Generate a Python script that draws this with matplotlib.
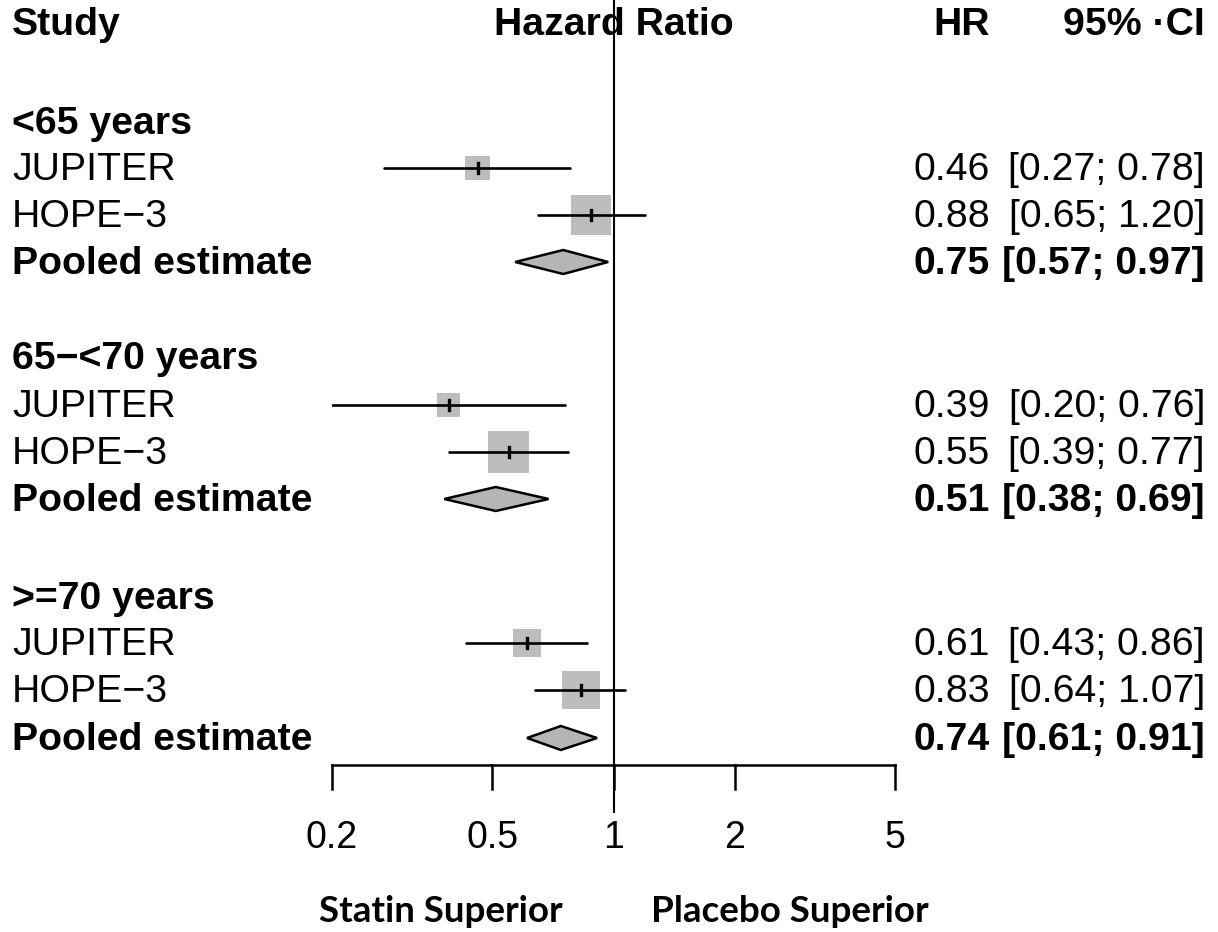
import matplotlib
matplotlib.use('Agg')
import matplotlib.pyplot as plt
import numpy as np

# ── Data ─────────────────────────────────────────────────────────────────────
groups = ['<65 years', '65\u2212<70 years', '>=70 years']
studies = ['JUPITER', 'HOPE\u22123']
hr = [[0.46, 0.88], [0.39, 0.55], [0.61, 0.83]]
ci_lo = [[0.27, 0.65], [0.20, 0.39], [0.43, 0.64]]
ci_hi = [[0.78, 1.20], [0.76, 0.77], [0.86, 1.07]]
weights = [[28, 72], [24, 76], [36, 64]]  # % weight, box area
pooled_hr = [0.75, 0.51, 0.74]
pooled_lo = [0.57, 0.38, 0.61]
pooled_hi = [0.97, 0.69, 0.91]
xticks = [0.2, 0.5, 1, 2, 5]

# ── Layout (image pixels) ────────────────────────────────────────────────────
W, H = 1218, 932
group_y = [122, 357, 597]
row_y = [[168, 215, 262], [405, 452, 499], [643, 690, 738]]
axis_y = 765
FS = 28.3
plt.rcParams['font.family'] = ['Liberation Sans', 'DejaVu Sans']

fig = plt.figure(figsize=(W / 100, H / 100), dpi=100)
fig.patch.set_facecolor('white')
ax = fig.add_axes([332 / W, 0, (895 - 332) / W, 1])
ax.set_xscale('log')
ax.set_xlim(0.2, 5)
ax.set_ylim(H, 0)
ax.axis('off')

def ftext(xpx, ypx, s, **kw):
    # x in figure pixels, y in image pixels (same as data y)
    fig.text(xpx / W, 1 - ypx / H, s, fontsize=kw.pop('fontsize', FS), **kw)

# headers
ftext(12, 35, 'Study', fontweight='bold', ha='left', va='baseline')
ax.text(1, 35, 'Hazard Ratio', fontsize=FS, fontweight='bold', ha='center', va='baseline')
ftext(990, 35, 'HR', fontweight='bold', ha='right', va='baseline')
ftext(1205, 35, '95% \u00b7CI', fontweight='bold', ha='right', va='baseline')

# reference line at HR = 1
ax.plot([1, 1], [0, 812], color='black', lw=1.5, clip_on=False)

for g in range(3):
    ftext(12, group_y[g] + 12, groups[g], fontweight='bold', ha='left', va='baseline')
    for s in range(2):
        y = row_y[g][s]
        ax.plot([ci_lo[g][s], ci_hi[g][s]], [y, y], color='black', lw=1.9, solid_capstyle='round')
        side = 4.71 * np.sqrt(weights[g][s])
        ax.scatter([hr[g][s]], [y], marker='s', s=(side * 0.72) ** 2, color='#bdbdbd',
                   edgecolor='none', zorder=1)
        ax.plot([hr[g][s], hr[g][s]], [y - 5, y + 5], color='black', lw=2.4, zorder=3)
        ftext(12, y + 12, studies[s], ha='left', va='baseline')
        ftext(990, y + 12, f'{hr[g][s]:.2f}', ha='right', va='baseline')
        ftext(1205, y + 12, f'[{ci_lo[g][s]:.2f}; {ci_hi[g][s]:.2f}]', ha='right', va='baseline')
    y = row_y[g][2]
    ax.fill([pooled_lo[g], pooled_hr[g], pooled_hi[g], pooled_hr[g]],
            [y, y - 12, y, y + 12], facecolor='#b5b5b5', edgecolor='black', lw=1.8, zorder=2)
    ftext(12, y + 12, 'Pooled estimate', fontweight='bold', ha='left', va='baseline')
    ftext(990, y + 12, f'{pooled_hr[g]:.2f}', fontweight='bold', ha='right', va='baseline')
    ftext(1205, y + 12, f'[{pooled_lo[g]:.2f}; {pooled_hi[g]:.2f}]', fontweight='bold',
          ha='right', va='baseline')

# x axis
ax.plot([xticks[0], xticks[-1]], [axis_y, axis_y], color='black', lw=1.8, clip_on=False)
for t in xticks:
    ax.plot([t, t], [axis_y, axis_y + 24], color='black', lw=1.8, clip_on=False)
    ax.text(t, 848, f'{t:g}', fontsize=27, ha='center', va='baseline')

# direction labels
ftext(441, 922, 'Statin Superior', family=['Lato', 'DejaVu Sans'], fontweight='bold',
      fontsize=26.5, ha='center', va='baseline')
ftext(790, 922, 'Placebo Superior', family=['Lato', 'DejaVu Sans'], fontweight='bold',
      fontsize=26.5, ha='center', va='baseline')

fig.savefig('out.png', dpi=100, facecolor='white')
